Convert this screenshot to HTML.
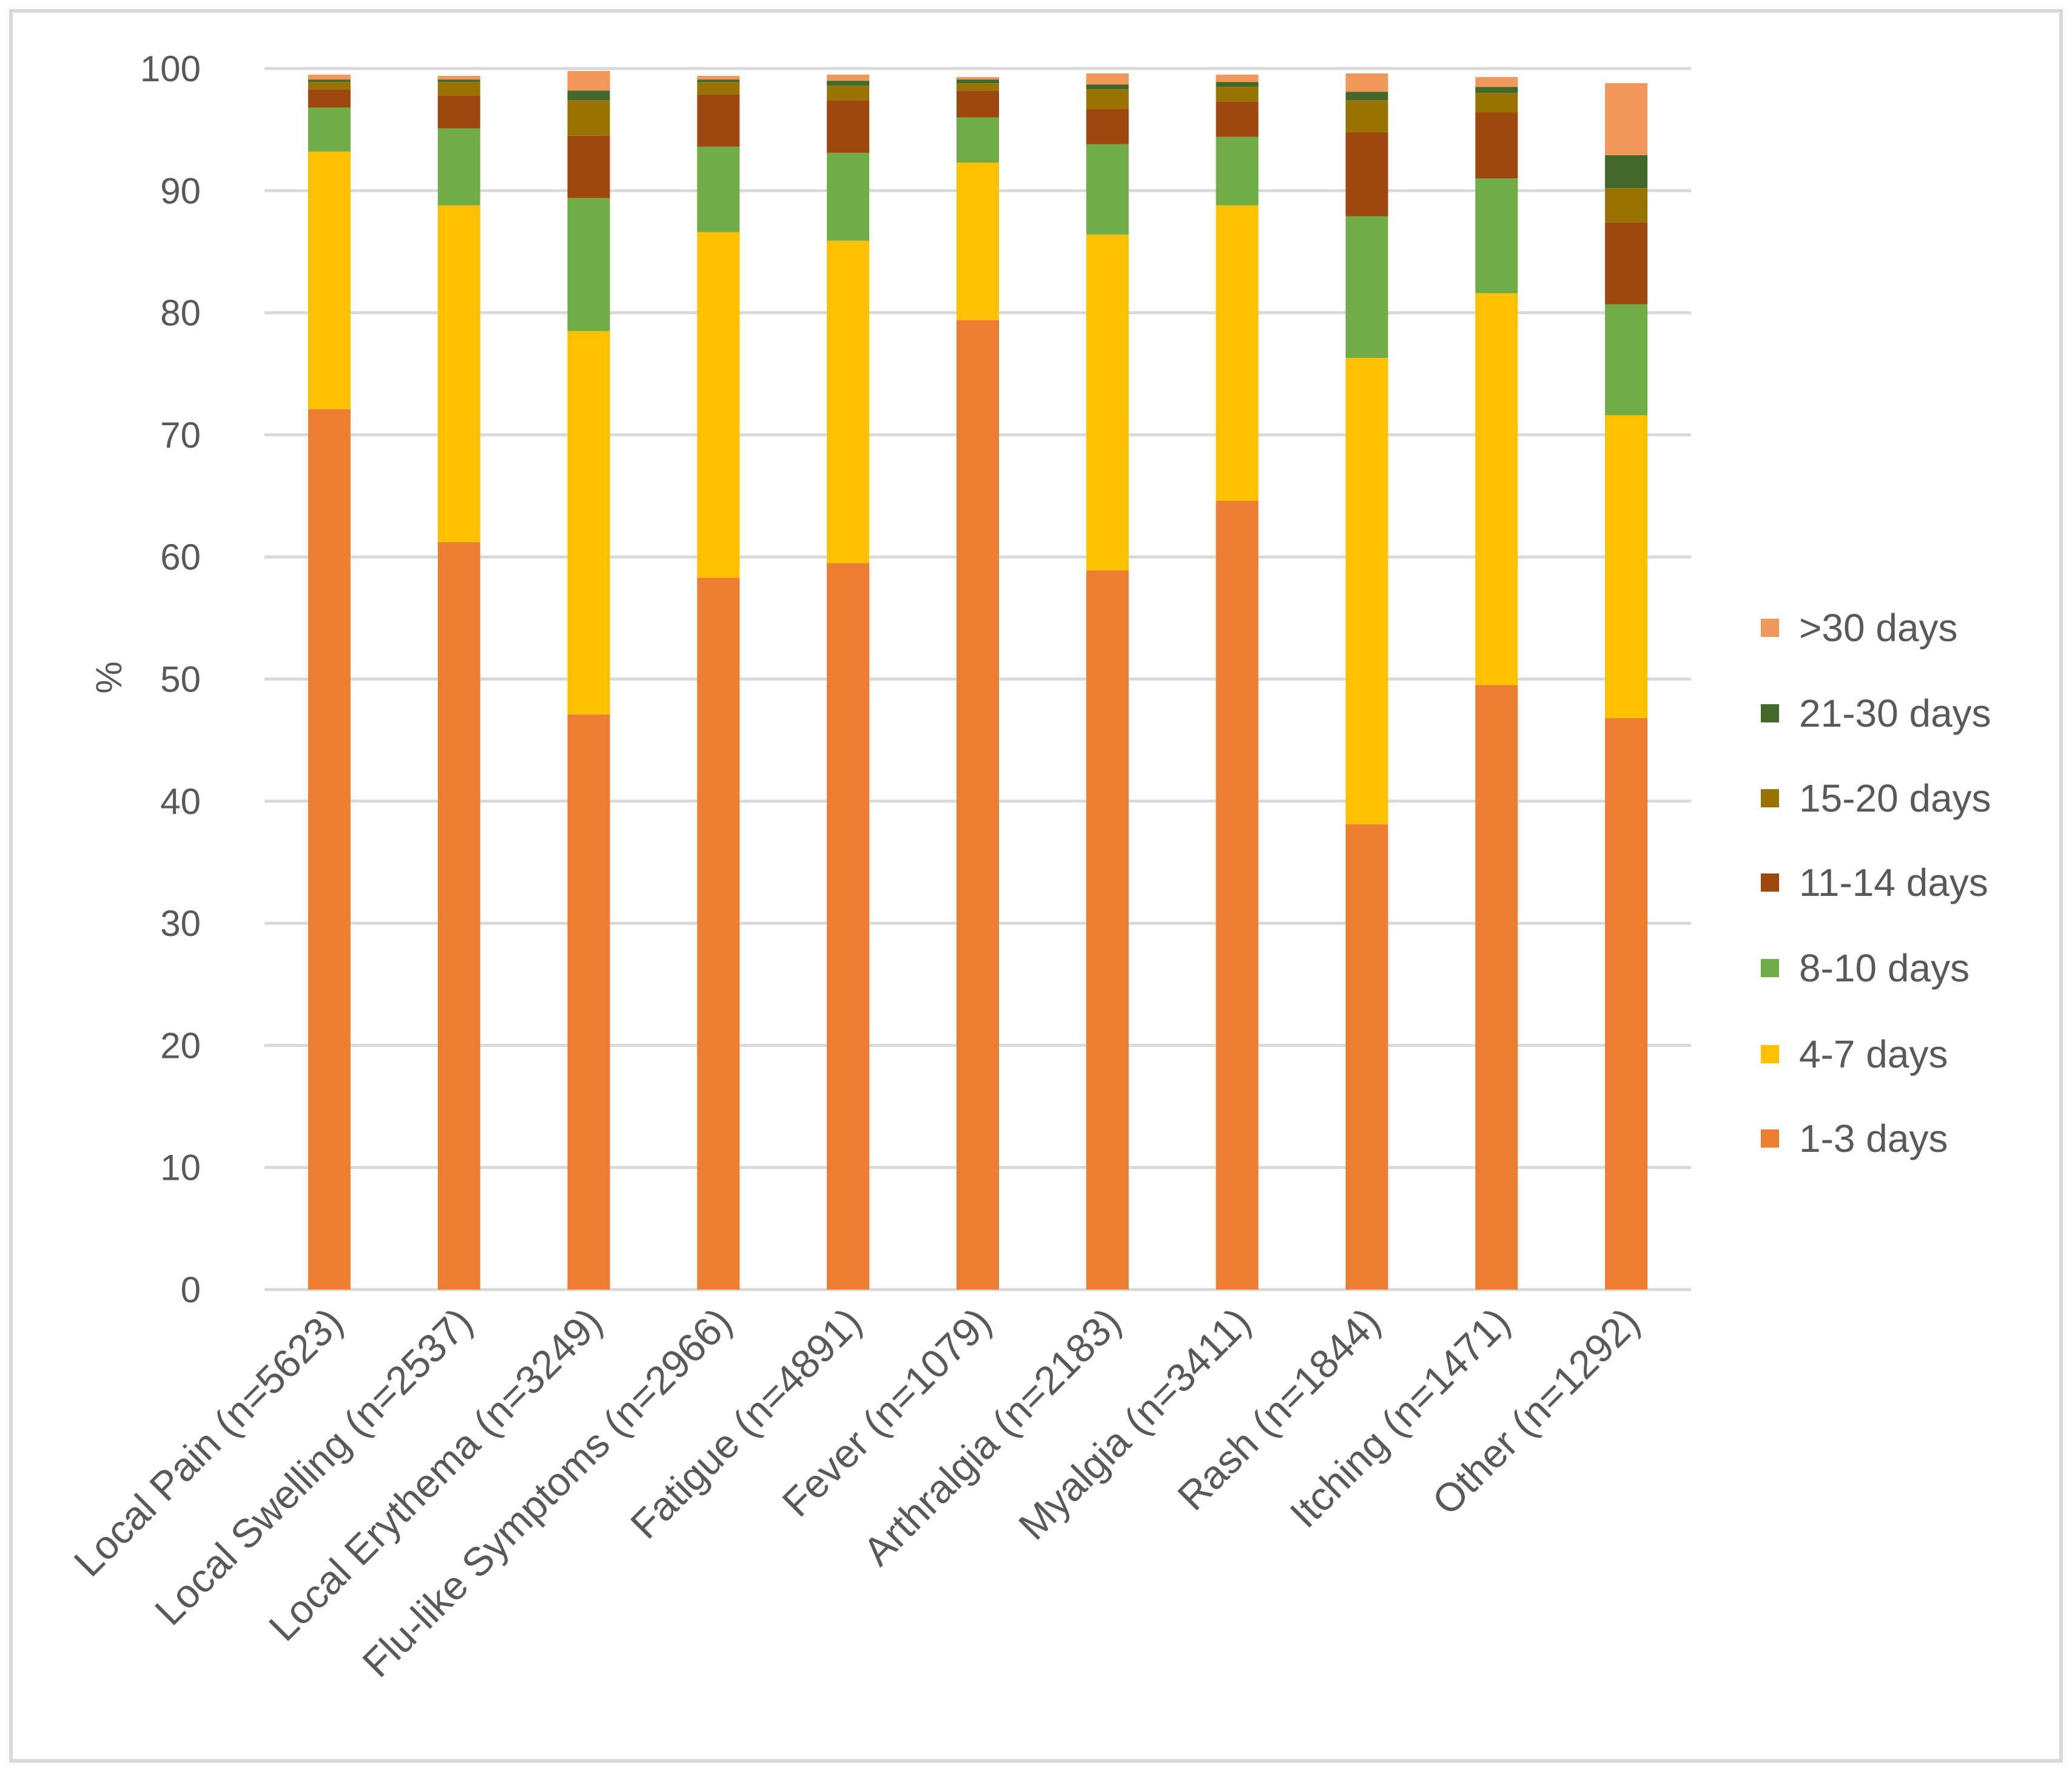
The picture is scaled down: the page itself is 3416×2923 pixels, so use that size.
<!DOCTYPE html>
<html><head><meta charset="utf-8"><style>
html,body{margin:0;padding:0;background:#fff;}
svg{display:block;font-family:"Liberation Sans",sans-serif;}
</style></head><body>
<svg id="chart" width="3416" height="2923" viewBox="0 0 3416 2923" xmlns="http://www.w3.org/2000/svg">
<rect x="18" y="18" width="3380" height="2885" fill="#fff" stroke="#d9d9d9" stroke-width="6"/>
<g id="grid"></g><g id="bars"></g><g id="yticks"></g><g id="xlabels"></g><g id="legend"></g>
<text transform="translate(200,1117) rotate(-90)" text-anchor="middle" font-size="60" fill="#595959">%</text>
</svg>
<script>
const categories = ["Local Pain (n=5623)","Local Swelling (n=2537)","Local Erythema (n=3249)","Flu-like Symptoms (n=2966)","Fatigue (n=4891)","Fever (n=1079)","Arthralgia (n=2183)","Myalgia (n=3411)","Rash (n=1844)","Itching (n=1471)","Other (n=1292)"];
const seriesNames = ["1-3 days","4-7 days","8-10 days","11-14 days","15-20 days","21-30 days",">30 days"];
const s1to3 = [72.1,61.2,47.1,58.3,59.5,79.4,58.9,64.6,38.1,49.5,46.8];
const s4to7 = [21.1,27.6,31.4,28.3,26.4,12.9,27.5,24.2,38.2,32.1,24.8];
const s8to10 = [3.6,6.3,10.9,7.0,7.2,3.7,7.4,5.6,11.6,9.4,9.1];
const s11to14 = [1.5,2.7,5.1,4.3,4.3,2.2,2.9,2.9,6.9,5.4,6.7];
const s15to20 = [0.6,1.1,2.9,1.0,1.2,0.6,1.6,1.2,2.6,1.6,2.8];
const s21to30 = [0.2,0.2,0.8,0.2,0.4,0.3,0.4,0.4,0.7,0.5,2.7];
const sOver30 = [0.4,0.3,1.6,0.3,0.5,0.2,0.9,0.6,1.5,0.8,5.9];
const yTicks = [0,10,20,30,40,50,60,70,80,90,100];

const series = [s1to3,s4to7,s8to10,s11to14,s15to20,s21to30,sOver30];
const colors = ["#ED7D31","#FFC000","#70AD47","#9E480E","#997300","#43682B","#F1975A"];
const NS="http://www.w3.org/2000/svg";
const plotL=436, plotR=2788, y0=2126, y100=113;
const band=(plotR-plotL)/categories.length, barW=70;
function yScale(v){return y0-(v/100)*(y0-y100);}
function xCenter(i){return plotL+band*(i+0.5);}
function mk(tag,attrs,parent){const e=document.createElementNS(NS,tag);for(const k in attrs)e.setAttribute(k,attrs[k]);parent.appendChild(e);return e;}

const grid=document.getElementById('grid'), yt=document.getElementById('yticks');
yTicks.forEach(t=>{
  const l=mk('line',{x1:plotL,x2:plotR,y1:yScale(t),y2:yScale(t),stroke:'#d9d9d9','stroke-width':5},grid);
  
  
  const tx=mk('text',{x:331,y:yScale(t)+21,'text-anchor':'end','font-size':60,fill:'#595959'},yt);
  tx.textContent=t;
  
  
});

const bars=document.getElementById('bars');
categories.forEach((c,i)=>{
  let acc=0;
  series.forEach((s,j)=>{
    const v=s[i];
    const r=mk('rect',{x:xCenter(i)-barW/2,y:yScale(acc+v),width:barW,height:yScale(acc)-yScale(acc+v),fill:colors[j]},bars);
    
    
    acc+=v;
  });
});

const xl=document.getElementById('xlabels');
categories.forEach((c,i)=>{
  const x=xCenter(i)+26, y=2184;
  const t=mk('text',{x:x,y:y,'text-anchor':'end','font-size':66,fill:'#595959',transform:`rotate(-45 ${x} ${y})`},xl);
  t.textContent=c;
  
  
});

const lg=document.getElementById('legend');
const legY=[1877,1738,1596,1455,1316,1176,1035];
seriesNames.forEach((n,j)=>{
  const g=mk('g',{},lg);
  
  
  mk('rect',{x:2903,y:legY[j]-15,width:30,height:30,fill:colors[j]},g);
  const t=mk('text',{x:2966,y:legY[j]+22,'font-size':64,fill:'#595959'},g);
  t.textContent=n;
});
</script>
</body></html>
